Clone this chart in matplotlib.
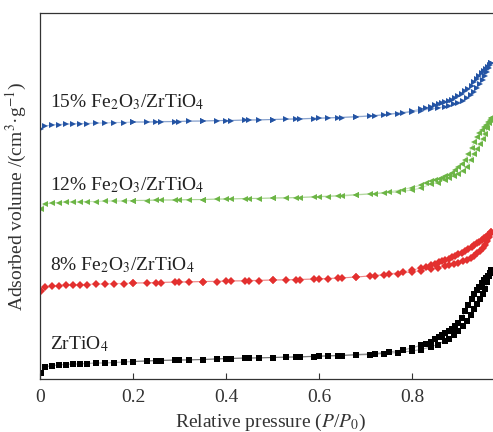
import matplotlib
matplotlib.use("Agg")
import matplotlib.pyplot as plt

plt.rcParams['font.family'] = ['Liberation Serif', 'DejaVu Serif']
plt.rcParams['mathtext.fontset'] = 'stix'

# Relative pressure points (adsorption then desorption)
p_ads = [0.002, 0.01, 0.025, 0.04, 0.055, 0.07, 0.085, 0.10, 0.12, 0.14, 0.16, 0.18, 0.20,
         0.23, 0.26, 0.29, 0.32, 0.35, 0.38, 0.41, 0.44, 0.47, 0.50, 0.53, 0.56, 0.59, 0.62,
         0.65, 0.68, 0.71, 0.74, 0.77,
         0.80, 0.82, 0.84, 0.855, 0.87, 0.88, 0.89, 0.90, 0.91, 0.918, 0.926, 0.933, 0.94,
         0.946, 0.952, 0.957, 0.962, 0.966, 0.97]
p_des = [0.97, 0.967, 0.963, 0.959, 0.955, 0.95, 0.945, 0.94, 0.934, 0.928, 0.921, 0.914,
         0.907, 0.9, 0.893, 0.886, 0.879, 0.872, 0.865, 0.858, 0.85, 0.84, 0.83, 0.82,
         0.80, 0.78, 0.75, 0.72, 0.68, 0.64, 0.60, 0.55, 0.50, 0.45, 0.40, 0.35, 0.30, 0.25, 0.20]

# Adsorbed volume (stacked with offsets, arbitrary units)
zt_ads = [6, 12, 13.5, 14, 14.5, 15, 15, 15.5, 16, 16, 16.5, 17, 17.5, 18, 18.5, 19, 19, 19.5,
          20, 20.5, 21, 21, 21.5, 22, 22, 22.5, 23, 23.5, 24, 24.5, 25.5, 26.5,
          28, 29.5, 32, 34.5, 38, 40.5, 44, 48, 53, 58, 64, 70, 75, 80, 85, 90, 97, 103, 109]
zt_des = [109, 106, 103, 101, 99, 96, 92, 89, 85, 80, 74, 68, 61, 56, 53, 50.5, 48.5, 46.5,
          44, 42, 40, 37.5, 35.5, 34,
          31, 29, 27, 25.5, 24.5, 23.5, 23, 22, 21.5, 21, 20.5, 19.5, 19, 18.5, 17.5]

fe8_ads = [88, 92, 93, 93.5, 94, 94, 94.5, 94.5, 95, 95, 95.5, 95.5, 96, 96, 96.5, 97, 97, 97.5,
           97.5, 98, 98, 98.5, 99, 99, 99.5, 100, 100.5, 101, 102, 103, 104, 105.5,
           107, 108.5, 110, 111.5, 113, 114, 115, 116.5, 118, 119.5, 121.5, 123.5, 126, 128.5,
           131.5, 134, 138, 142, 147]
fe8_des = [147, 145.5, 144, 142.5, 141, 139, 137.5, 136, 134, 132, 130, 128, 126.5, 125, 123.5,
           122, 120.5, 119.5, 118, 117, 115.5, 114, 112.5, 111,
           109, 107, 105, 103.5, 102, 101, 100, 99.5, 99, 98.5, 98, 97.5, 97, 96.5, 96]

fe12_ads = [170, 175, 176, 176.5, 177, 177, 177, 177.5, 177.5, 178, 178, 178, 178.5, 178.5, 179,
            179, 179.5, 179.5, 180, 180, 180.5, 180.5, 181, 181, 181.5, 182, 182.5, 183, 184,
            185, 186, 187,
            189, 191, 195, 196.5, 199, 201, 203, 205, 208, 212, 219, 225, 230, 235, 240, 245,
            251, 256, 261]
fe12_des = [261, 259, 257, 254.5, 252, 249, 246, 242, 237, 231, 225, 219, 215, 212, 209, 206.5,
            204.5, 203, 201.5, 200.5, 199.5, 198, 196, 194,
            191.5, 189.5, 187, 185.5, 184.5, 183.5, 182.5, 181.5, 181, 180.5, 180, 179.5, 179,
            179, 178.5]

fe15_ads = [250, 253, 254, 254.5, 255, 255, 255.5, 255.5, 256, 256, 256.5, 256.5, 257, 257,
            257.5, 257.5, 258, 258, 258.5, 258.5, 259, 259, 259.5, 260, 260, 260.5, 261, 261.5,
            262, 263, 264, 265.5,
            267, 268.5, 270, 271, 272.5, 273.5, 275, 276.5, 278.5, 281, 284, 287.5, 291, 295,
            299, 303, 307, 311, 316]
fe15_des = [316, 314.5, 312.5, 310.5, 308.5, 306, 303, 300, 297, 293.5, 290, 288, 285, 283, 281,
            279.5, 278, 277, 276, 275, 274, 272.5, 271, 270,
            268, 266.5, 265, 263.5, 262.5, 261.5, 261, 260, 259.5, 259, 258.5, 258, 257.5, 257,
            257]

labels = ["ZrTiO$_4$", "8% Fe$_2$O$_3$/ZrTiO$_4$", "12% Fe$_2$O$_3$/ZrTiO$_4$",
          "15% Fe$_2$O$_3$/ZrTiO$_4$"]
label_y = [30, 109, 189, 272]
xticks = [0, 0.2, 0.4, 0.6, 0.8]
xticklabels = ["0", "0.2", "0.4", "0.6", "0.8"]

series = [
    (zt_ads, zt_des, '#000000', 's'),
    (fe8_ads, fe8_des, '#e3302f', 'D'),
    (fe12_ads, fe12_des, '#6cb545', '<'),
    (fe15_ads, fe15_des, '#2454a4', '>'),
]

W, H = 493, 432
fig = plt.figure(figsize=(W / 100, H / 100), dpi=100)
ax = fig.add_axes([40 / W, (H - 379) / H, 453 / W, 366 / H])

for (ya, yd, c, m) in series:
    for xs, ys in ((p_ads, ya), (p_des, yd)):
        ax.plot(xs, ys, color=c, alpha=0.35, lw=0.8, zorder=1)
        ax.plot(xs, ys, linestyle='none', marker=m, color=c,
                markersize=4.4 if m != 'D' else 3.8, markeredgewidth=0, zorder=2)

for t, yv in zip(labels, label_y):
    ax.text(0.022, yv, t, fontsize=14, color='#222222', va='baseline', ha='left')

ax.set_xlim(0, 453 / 465)
ax.set_ylim(0, 366)
ax.set_xticks(xticks)
ax.set_xticklabels(xticklabels)
ax.set_yticks([])
ax.tick_params(axis='x', direction='in', length=4, width=0.8, labelsize=14,
               colors='#333333', pad=7)
ax.spines['right'].set_visible(False)
for s in ('left', 'top', 'bottom'):
    ax.spines[s].set_color('#333333')
    ax.spines[s].set_linewidth(0.9)

ax.set_xlabel("Relative pressure ($P$/$P_0$)", fontsize=14, color='#333333')
ax.xaxis.set_label_coords((270 - 40) / 453, -(412 - 379) / 366)
ax.set_ylabel("Adsorbed volume /(cm$^3$·g$^{-1}$)", fontsize=14, color='#333333')
ax.yaxis.set_label_coords(-(40 - 29) / 453, 0.5)

fig.savefig("out.png", dpi=100)
